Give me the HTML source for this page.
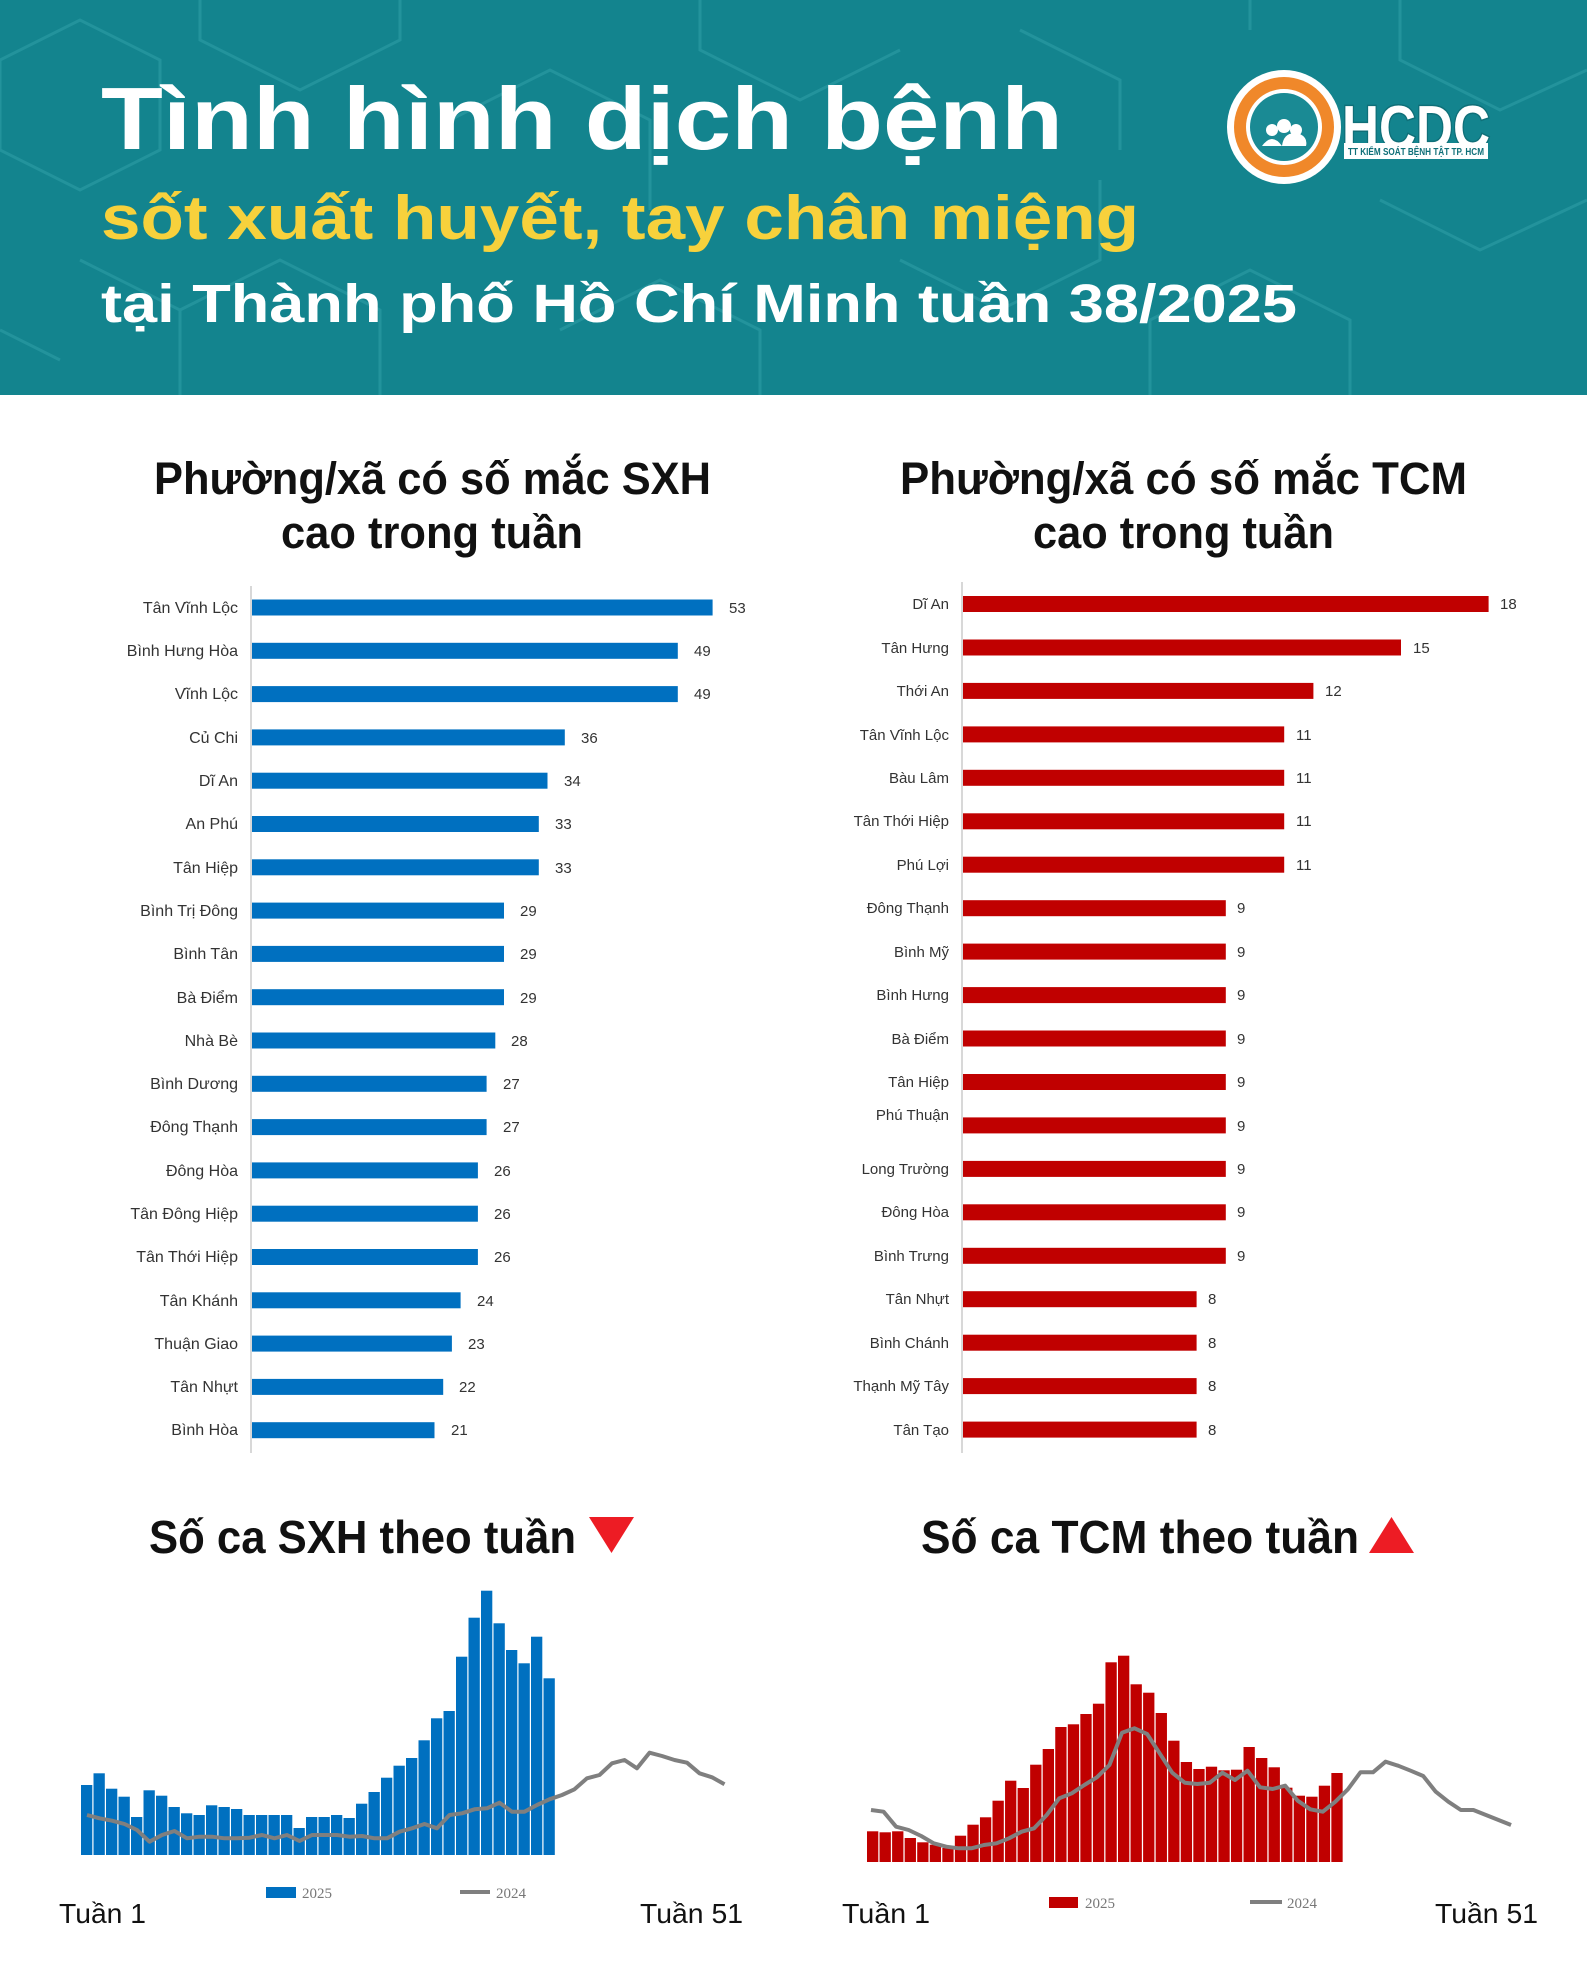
<!DOCTYPE html>
<html><head><meta charset="utf-8"><style>
html,body{margin:0;padding:0;background:#fff}
svg{display:block}
.c{font-family:"Liberation Sans",sans-serif;font-size:16px;fill:#333}
.v{font-family:"Liberation Sans",sans-serif;font-size:15px;fill:#333}
.t{font-family:"Liberation Sans",sans-serif;font-weight:bold;fill:#111}
.n{font-family:"Liberation Sans Narrow","Liberation Sans",sans-serif;fill:#111}
.lg{font-family:"Liberation Serif",serif;font-size:15px;fill:#777}
</style></head><body>
<svg width="1587" height="1984" viewBox="0 0 1587 1984" xmlns="http://www.w3.org/2000/svg">
<rect x="0" y="0" width="1587" height="395" fill="#13848e"/>
<g stroke="#2a9aa3" stroke-width="3" fill="none" opacity="0.7">
<path d="M0 60 L80 20 L160 60 L160 150 L80 190 L0 150 Z"/>
<path d="M200 0 L200 40 L300 90 L400 40 L400 0"/>
<path d="M80 260 L180 310 L180 395 M180 310 L280 260 L380 310 L380 395"/>
<path d="M450 120 L550 70 L650 120 L650 210 M700 0 L700 50 L800 100 L900 50"/>
<path d="M560 330 L660 280 L760 330 L760 395 M900 260 L1000 310 L1100 260 L1100 180"/>
<path d="M1150 395 L1150 320 L1250 270 L1350 320 L1350 395 M1400 0 L1400 60 L1500 110 L1587 70"/>
<path d="M1380 200 L1480 250 L1587 200 M1020 30 L1120 80 L1120 150"/>
<path d="M0 330 L60 360 M1250 0 L1250 30"/>
</g>
<text x="101" y="149" class="t" fill="#fff" style="fill:#fff;font-size:88px" textLength="962" lengthAdjust="spacingAndGlyphs">Tình hình dịch bệnh</text>
<text x="101" y="239" class="t" style="fill:#f7d13c;font-size:62px" textLength="1038" lengthAdjust="spacingAndGlyphs">sốt xuất huyết, tay chân miệng</text>
<text x="101" y="322" class="t" style="fill:#fff;font-size:54px" textLength="1196" lengthAdjust="spacingAndGlyphs">tại Thành phố Hồ Chí Minh tuần 38/2025</text>
<!-- logo -->
<circle cx="1284" cy="127" r="57" fill="#fff"/>
<circle cx="1284" cy="127" r="50" fill="#f0882a"/>
<circle cx="1284" cy="127" r="38" fill="#fff"/>
<circle cx="1284" cy="127" r="34" fill="#1a8a94"/>
<circle cx="1272" cy="130" r="6" fill="#fff"/><circle cx="1284" cy="126" r="7" fill="#fff"/><circle cx="1296" cy="130" r="6" fill="#fff"/>
<path d="M1262 146 q10 -14 20 0 q2 -16 18 -12 q8 4 6 12 Z" fill="#fff"/>
<text x="1342" y="149" style="font-family:'Liberation Sans',sans-serif;font-weight:bold;font-size:62px;fill:#fff;stroke:#0f6f78;stroke-width:3;paint-order:stroke" textLength="148" lengthAdjust="spacingAndGlyphs">HCDC</text>
<rect x="1344" y="143" width="144" height="16" fill="#fff"/>
<text x="1348" y="155" style="font-family:'Liberation Sans',sans-serif;font-weight:bold;font-size:10px;fill:#0f6f78" textLength="136" lengthAdjust="spacingAndGlyphs">TT KIỂM SOÁT BỆNH TẬT TP. HCM</text>

<!-- mid titles -->
<text x="154" y="494" class="t" style="font-size:45px" textLength="557" lengthAdjust="spacingAndGlyphs">Phường/xã có số mắc SXH</text>
<text x="281" y="548" class="t" style="font-size:45px" textLength="302" lengthAdjust="spacingAndGlyphs">cao trong tuần</text>
<text x="900" y="494" class="t" style="font-size:45px" textLength="567" lengthAdjust="spacingAndGlyphs">Phường/xã có số mắc TCM</text>
<text x="1033" y="548" class="t" style="font-size:45px" textLength="301" lengthAdjust="spacingAndGlyphs">cao trong tuần</text>

<!-- left bar chart -->
<line x1="251" y1="586" x2="251" y2="1453" stroke="#ccc" stroke-width="1.5"/>
<g fill="#0070c0">
<rect x="252" y="599.5" width="460.6" height="16"/>
<rect x="252" y="642.8" width="425.8" height="16"/>
<rect x="252" y="686.1" width="425.8" height="16"/>
<rect x="252" y="729.4" width="312.8" height="16"/>
<rect x="252" y="772.7" width="295.5" height="16"/>
<rect x="252" y="816" width="286.8" height="16"/>
<rect x="252" y="859.3" width="286.8" height="16"/>
<rect x="252" y="902.6" width="252" height="16"/>
<rect x="252" y="945.9" width="252" height="16"/>
<rect x="252" y="989.2" width="252" height="16"/>
<rect x="252" y="1032.5" width="243.3" height="16"/>
<rect x="252" y="1075.8" width="234.6" height="16"/>
<rect x="252" y="1119.1" width="234.6" height="16"/>
<rect x="252" y="1162.4" width="225.9" height="16"/>
<rect x="252" y="1205.7" width="225.9" height="16"/>
<rect x="252" y="1249" width="225.9" height="16"/>
<rect x="252" y="1292.3" width="208.6" height="16"/>
<rect x="252" y="1335.6" width="199.9" height="16"/>
<rect x="252" y="1378.9" width="191.2" height="16"/>
<rect x="252" y="1422.2" width="182.5" height="16"/>
</g>
<g class="c" text-anchor="end">
<text x="238" y="613">Tân Vĩnh Lộc</text>
<text x="238" y="656">Bình Hưng Hòa</text>
<text x="238" y="699">Vĩnh Lộc</text>
<text x="238" y="743">Củ Chi</text>
<text x="238" y="786">Dĩ An</text>
<text x="238" y="829">An Phú</text>
<text x="238" y="873">Tân Hiệp</text>
<text x="238" y="916">Bình Trị Đông</text>
<text x="238" y="959">Bình Tân</text>
<text x="238" y="1003">Bà Điểm</text>
<text x="238" y="1046">Nhà Bè</text>
<text x="238" y="1089">Bình Dương</text>
<text x="238" y="1132">Đông Thạnh</text>
<text x="238" y="1176">Đông Hòa</text>
<text x="238" y="1219">Tân Đông Hiệp</text>
<text x="238" y="1262">Tân Thới Hiệp</text>
<text x="238" y="1306">Tân Khánh</text>
<text x="238" y="1349">Thuận Giao</text>
<text x="238" y="1392">Tân Nhựt</text>
<text x="238" y="1435">Bình Hòa</text>
</g>
<g class="v">
<text x="729" y="613">53</text>
<text x="694" y="656">49</text>
<text x="694" y="699">49</text>
<text x="581" y="743">36</text>
<text x="564" y="786">34</text>
<text x="555" y="829">33</text>
<text x="555" y="873">33</text>
<text x="520" y="916">29</text>
<text x="520" y="959">29</text>
<text x="520" y="1003">29</text>
<text x="511" y="1046">28</text>
<text x="503" y="1089">27</text>
<text x="503" y="1132">27</text>
<text x="494" y="1176">26</text>
<text x="494" y="1219">26</text>
<text x="494" y="1262">26</text>
<text x="477" y="1306">24</text>
<text x="468" y="1349">23</text>
<text x="459" y="1392">22</text>
<text x="451" y="1435">21</text>
</g>

<!-- right bar chart -->
<line x1="962" y1="582" x2="962" y2="1453" stroke="#ccc" stroke-width="1.5"/>
<g fill="#c00000">
<rect x="963" y="596" width="525.6" height="16"/>
<rect x="963" y="639.5" width="438" height="16"/>
<rect x="963" y="682.9" width="350.4" height="16"/>
<rect x="963" y="726.4" width="321.2" height="16"/>
<rect x="963" y="769.8" width="321.2" height="16"/>
<rect x="963" y="813.3" width="321.2" height="16"/>
<rect x="963" y="856.7" width="321.2" height="16"/>
<rect x="963" y="900.2" width="262.8" height="16"/>
<rect x="963" y="943.6" width="262.8" height="16"/>
<rect x="963" y="987.1" width="262.8" height="16"/>
<rect x="963" y="1030.5" width="262.8" height="16"/>
<rect x="963" y="1074" width="262.8" height="16"/>
<rect x="963" y="1117.4" width="262.8" height="16"/>
<rect x="963" y="1160.9" width="262.8" height="16"/>
<rect x="963" y="1204.3" width="262.8" height="16"/>
<rect x="963" y="1247.8" width="262.8" height="16"/>
<rect x="963" y="1291.2" width="233.6" height="16"/>
<rect x="963" y="1334.7" width="233.6" height="16"/>
<rect x="963" y="1378.1" width="233.6" height="16"/>
<rect x="963" y="1421.6" width="233.6" height="16"/>
</g>
<g class="c" text-anchor="end" style="font-size:15px">
<text x="949" y="609">Dĩ An</text>
<text x="949" y="653">Tân Hưng</text>
<text x="949" y="696">Thới An</text>
<text x="949" y="740">Tân Vĩnh Lộc</text>
<text x="949" y="783">Bàu Lâm</text>
<text x="949" y="826">Tân Thới Hiệp</text>
<text x="949" y="870">Phú Lợi</text>
<text x="949" y="913">Đông Thạnh</text>
<text x="949" y="957">Bình Mỹ</text>
<text x="949" y="1000">Bình Hưng</text>
<text x="949" y="1044">Bà Điểm</text>
<text x="949" y="1087">Tân Hiệp</text>
<text x="949" y="1120">Phú Thuận</text>
<text x="949" y="1174">Long Trường</text>
<text x="949" y="1217">Đông Hòa</text>
<text x="949" y="1261">Bình Trưng</text>
<text x="949" y="1304">Tân Nhựt</text>
<text x="949" y="1348">Bình Chánh</text>
<text x="949" y="1391">Thạnh Mỹ Tây</text>
<text x="949" y="1435">Tân Tạo</text>
</g>
<g class="v">
<text x="1500" y="609">18</text>
<text x="1413" y="653">15</text>
<text x="1325" y="696">12</text>
<text x="1296" y="740">11</text>
<text x="1296" y="783">11</text>
<text x="1296" y="826">11</text>
<text x="1296" y="870">11</text>
<text x="1237" y="913">9</text>
<text x="1237" y="957">9</text>
<text x="1237" y="1000">9</text>
<text x="1237" y="1044">9</text>
<text x="1237" y="1087">9</text>
<text x="1237" y="1131">9</text>
<text x="1237" y="1174">9</text>
<text x="1237" y="1217">9</text>
<text x="1237" y="1261">9</text>
<text x="1208" y="1304">8</text>
<text x="1208" y="1348">8</text>
<text x="1208" y="1391">8</text>
<text x="1208" y="1435">8</text>
</g>

<!-- bottom titles -->
<text x="149" y="1553" class="n" style="font-size:46px;font-weight:bold" textLength="427" lengthAdjust="spacingAndGlyphs">Số ca SXH theo tuần</text>
<polygon points="589,1517 634,1517 611.5,1553" fill="#ed1c24"/>
<text x="921" y="1553" class="n" style="font-size:46px;font-weight:bold" textLength="438" lengthAdjust="spacingAndGlyphs">Số ca TCM theo tuần</text>
<polygon points="1369,1553 1414,1553 1391.5,1517" fill="#ed1c24"/>

<!-- left weekly chart -->
<g fill="#0070c0">
<rect x="81" y="1785" width="11.3" height="70"/>
<rect x="93.5" y="1773.3" width="11.3" height="81.7"/>
<rect x="106" y="1788.7" width="11.3" height="66.3"/>
<rect x="118.5" y="1796.7" width="11.3" height="58.3"/>
<rect x="131" y="1817" width="11.3" height="38"/>
<rect x="143.5" y="1790.3" width="11.3" height="64.7"/>
<rect x="156" y="1795.7" width="11.3" height="59.3"/>
<rect x="168.5" y="1807" width="11.3" height="48"/>
<rect x="181" y="1813.3" width="11.3" height="41.7"/>
<rect x="193.5" y="1815" width="11.3" height="40"/>
<rect x="206" y="1805.3" width="11.3" height="49.7"/>
<rect x="218.5" y="1807" width="11.3" height="48"/>
<rect x="231" y="1809" width="11.3" height="46"/>
<rect x="243.5" y="1815" width="11.3" height="40"/>
<rect x="256" y="1815" width="11.3" height="40"/>
<rect x="268.5" y="1815" width="11.3" height="40"/>
<rect x="281" y="1815" width="11.3" height="40"/>
<rect x="293.5" y="1828" width="11.3" height="27"/>
<rect x="306" y="1817" width="11.3" height="38"/>
<rect x="318.5" y="1817" width="11.3" height="38"/>
<rect x="331" y="1815" width="11.3" height="40"/>
<rect x="343.5" y="1818" width="11.3" height="37"/>
<rect x="356" y="1803.7" width="11.3" height="51.3"/>
<rect x="368.5" y="1792" width="11.3" height="63"/>
<rect x="381" y="1777.7" width="11.3" height="77.3"/>
<rect x="393.5" y="1765.7" width="11.3" height="89.3"/>
<rect x="406" y="1758" width="11.3" height="97"/>
<rect x="418.5" y="1740.3" width="11.3" height="114.7"/>
<rect x="431" y="1718.3" width="11.3" height="136.7"/>
<rect x="443.5" y="1711" width="11.3" height="144"/>
<rect x="456" y="1656.7" width="11.3" height="198.3"/>
<rect x="468.5" y="1617.7" width="11.3" height="237.3"/>
<rect x="481" y="1590.7" width="11.3" height="264.3"/>
<rect x="493.5" y="1623.3" width="11.3" height="231.7"/>
<rect x="506" y="1650" width="11.3" height="205"/>
<rect x="518.5" y="1663.3" width="11.3" height="191.7"/>
<rect x="531" y="1636.7" width="11.3" height="218.3"/>
<rect x="543.5" y="1678.3" width="11.3" height="176.7"/>
</g>
<polyline fill="none" stroke="#7f7f7f" stroke-width="4" stroke-linejoin="round" points="87,1815 99.5,1818.3 112,1820.7 124.5,1824 137,1830 149.5,1841.7 162,1835 174.5,1831 187,1838.3 199.5,1836.7 212,1836.7 224.5,1838.3 237,1838.3 249.5,1837.7 262,1835 274.5,1838.3 287,1835 299.5,1841 312,1835 324.5,1835 337,1835 349.5,1836.7 362,1836 374.5,1838.3 387,1838.3 399.5,1831.7 412,1828.3 424.5,1824 437,1828.3 449.5,1815 462,1813.3 474.5,1809.3 487,1808.3 499.5,1802.7 512,1811.7 524.5,1811.7 537,1805 549.5,1799.3 562,1795 574.5,1789.3 587,1778.3 599.5,1775 612,1763.3 624.5,1760 637,1768.3 649.5,1752.7 662,1756 674.5,1760 687,1762.7 699.5,1773.3 712,1777.3 724.5,1784.3"/>
<rect x="266" y="1887" width="30" height="11" fill="#0070c0"/>
<text x="302" y="1898" class="lg">2025</text>
<line x1="460" y1="1892" x2="490" y2="1892" stroke="#7f7f7f" stroke-width="4"/>
<text x="496" y="1898" class="lg">2024</text>
<text x="59" y="1923" class="n" style="font-size:28px" textLength="87" lengthAdjust="spacingAndGlyphs">Tuần 1</text>
<text x="640" y="1923" class="n" style="font-size:28px" textLength="103" lengthAdjust="spacingAndGlyphs">Tuần 51</text>

<!-- right weekly chart -->
<g fill="#c00000">
<rect x="867" y="1831.3" width="11.3" height="30.7"/>
<rect x="879.55" y="1832.3" width="11.3" height="29.7"/>
<rect x="892.1" y="1831.3" width="11.3" height="30.7"/>
<rect x="904.65" y="1838" width="11.3" height="24"/>
<rect x="917.2" y="1842.3" width="11.3" height="19.7"/>
<rect x="929.75" y="1844.7" width="11.3" height="17.3"/>
<rect x="942.3" y="1848" width="11.3" height="14"/>
<rect x="954.85" y="1835.7" width="11.3" height="26.3"/>
<rect x="967.4" y="1824.7" width="11.3" height="37.3"/>
<rect x="979.95" y="1817.3" width="11.3" height="44.7"/>
<rect x="992.5" y="1800.7" width="11.3" height="61.3"/>
<rect x="1005.05" y="1780.7" width="11.3" height="81.3"/>
<rect x="1017.6" y="1788" width="11.3" height="74"/>
<rect x="1030.15" y="1764.7" width="11.3" height="97.3"/>
<rect x="1042.7" y="1749" width="11.3" height="113"/>
<rect x="1055.25" y="1727" width="11.3" height="135"/>
<rect x="1067.8" y="1724.3" width="11.3" height="137.7"/>
<rect x="1080.35" y="1714" width="11.3" height="148"/>
<rect x="1092.9" y="1703.7" width="11.3" height="158.3"/>
<rect x="1105.45" y="1662.3" width="11.3" height="199.7"/>
<rect x="1118" y="1655.7" width="11.3" height="206.3"/>
<rect x="1130.55" y="1684.3" width="11.3" height="177.7"/>
<rect x="1143.1" y="1692.7" width="11.3" height="169.3"/>
<rect x="1155.65" y="1713" width="11.3" height="149"/>
<rect x="1168.2" y="1740.7" width="11.3" height="121.3"/>
<rect x="1180.75" y="1762" width="11.3" height="100"/>
<rect x="1193.3" y="1769" width="11.3" height="93"/>
<rect x="1205.85" y="1766.7" width="11.3" height="95.3"/>
<rect x="1218.4" y="1770.3" width="11.3" height="91.7"/>
<rect x="1230.95" y="1769.7" width="11.3" height="92.3"/>
<rect x="1243.5" y="1747" width="11.3" height="115"/>
<rect x="1256.05" y="1758" width="11.3" height="104"/>
<rect x="1268.6" y="1767.3" width="11.3" height="94.7"/>
<rect x="1281.15" y="1787.7" width="11.3" height="74.3"/>
<rect x="1293.7" y="1795.7" width="11.3" height="66.3"/>
<rect x="1306.25" y="1796.7" width="11.3" height="65.3"/>
<rect x="1318.8" y="1785.7" width="11.3" height="76.3"/>
<rect x="1331.35" y="1773" width="11.3" height="89"/>
</g>
<polyline fill="none" stroke="#7f7f7f" stroke-width="4" stroke-linejoin="round" points="871,1810 883.55,1811.7 896.1,1826.7 908.65,1830 921.2,1836 933.75,1843.3 946.3,1846.7 958.85,1848.3 971.4,1848.3 983.95,1845 996.5,1843.3 1009.05,1838.3 1021.6,1831.7 1034.15,1828.3 1046.7,1815 1059.25,1798.3 1071.8,1793.3 1084.35,1785 1096.9,1777.3 1109.45,1765 1122,1732.7 1134.55,1728.3 1147.1,1734 1159.65,1753.3 1172.2,1772.7 1184.75,1782.7 1197.3,1784 1209.85,1782.7 1222.4,1772.7 1234.95,1780 1247.5,1770.7 1260.05,1787.3 1272.6,1789 1285.15,1785.7 1297.7,1800.7 1310.25,1809.3 1322.8,1811.7 1335.35,1801.7 1347.9,1789.3 1360.45,1772.3 1373,1772.3 1385.55,1761.7 1398.1,1765.7 1410.65,1770.7 1423.2,1776 1435.75,1791.7 1448.3,1801.7 1460.85,1810 1473.4,1810 1485.95,1815 1498.5,1820 1511.05,1825"/>
<rect x="1049" y="1897" width="29" height="11" fill="#c00000"/>
<text x="1085" y="1908" class="lg">2025</text>
<line x1="1250" y1="1902" x2="1282" y2="1902" stroke="#7f7f7f" stroke-width="4"/>
<text x="1287" y="1908" class="lg">2024</text>
<text x="842" y="1923" class="n" style="font-size:28px" textLength="88" lengthAdjust="spacingAndGlyphs">Tuần 1</text>
<text x="1435" y="1923" class="n" style="font-size:28px" textLength="103" lengthAdjust="spacingAndGlyphs">Tuần 51</text>
</svg>
</body></html>
